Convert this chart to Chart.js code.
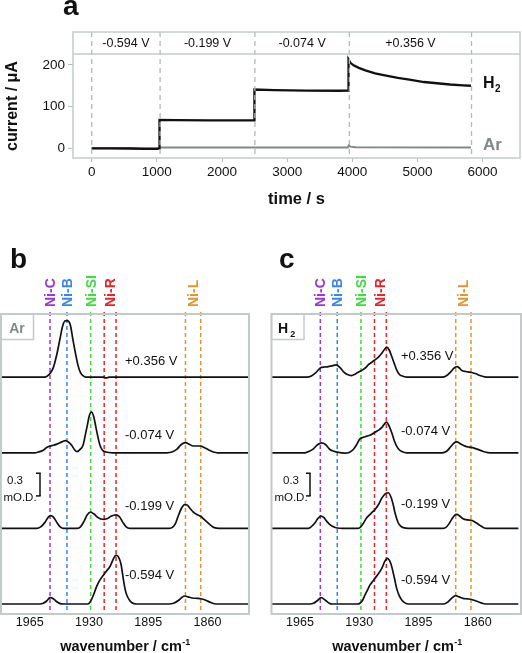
<!DOCTYPE html>
<html><head><meta charset="utf-8">
<script src="https://cdn.jsdelivr.net/npm/chart.js@4.4.1/dist/chart.umd.min.js"></script>
<style>
html,body{margin:0;padding:0;background:#fff;width:522px;height:653px;overflow:hidden}
canvas{position:absolute;left:0;top:0}
</style></head><body>
<canvas id="ca" width="522" height="653"></canvas>
<canvas id="cb" width="522" height="653"></canvas>
<canvas id="cc" width="522" height="653"></canvas>
<script>
// ================= DATA =================
// panel a : chronoamperometry
const timeTicks = [0, 1000, 2000, 3000, 4000, 5000, 6000];
const currentTicks = [0, 100, 200];
const stepTimes = [0, 1050, 2505, 3955, 5830];
const stepLabels = ['-0.594 V', '-0.199 V', '-0.074 V', '+0.356 V'];
const timeH2 = [0,300,600,800,1000,1040,1041,1300,1800,2300,2497,2498,2800,3300,3800,3940,3942,3970,4020,4100,4200,4350,4500,4700,4900,5100,5300,5500,5700,5822];
const currentH2 = [0,0,-0.5,-1.5,-1.5,0,68,67.5,67,67,67,141,139.5,138.5,138,138.5,213,205,199,193,187,180,175,169,164,159,156,153,151,150];
const timeAr = [0,1040,1060,2500,3930,3945,3970,4050,5822];
const currentAr = [0,0,2,2,2,7,4,2.5,2];

// panels b, c : IR difference spectra (mO.D.)
const wnTicks = [1965, 1930, 1895, 1860];
const potentials = ['+0.356 V', '-0.074 V', '-0.199 V', '-0.594 V'];
const traceOffsets = [3, 2, 1, 0];
const niLinePositions = [1953, 1943, 1929, 1921, 1914, 1873, 1864];
const niLabels = ['Ni-C', 'Ni-B', 'Ni-SI', 'Ni-R', 'Ni-L'];
const niLabelPositions = [1953, 1943, 1929, 1917.5, 1868.5];

// b (Ar)
const wnAr356 = [1982,1957,1955,1953,1951,1949,1947,1945.5,1944,1942.5,1941,1939.5,1938,1936.5,1935,1933.5,1932,1921,1920,1918,1836];
const odAr356 = [0,0,0.01,0.05,0.13,0.30,0.52,0.68,0.745,0.745,0.69,0.50,0.32,0.16,0.06,0.02,0,0,-0.01,0,0];
const wnAr074 = [1982,1962,1960,1957,1955,1953,1951,1949,1946,1944,1942,1940.2,1938.5,1937,1935.5,1933.5,1932.3,1931,1929.8,1928.5,1927.2,1926,1925,1923.5,1922,1920,1916,1884,1881,1878,1875.5,1873,1870.5,1868.5,1866,1864,1862,1859,1856.5,1854,1836];
const odAr074 = [0,0,0.01,0.035,0.07,0.09,0.10,0.115,0.145,0.16,0.14,0.10,0.04,0.015,0.04,0.10,0.22,0.36,0.49,0.54,0.48,0.35,0.24,0.10,0.035,0.01,0,0,0.01,0.05,0.11,0.135,0.11,0.09,0.09,0.09,0.07,0.035,0.01,0,0];
const wnAr199 = [1982,1961,1958.5,1956,1954,1952.6,1951,1949,1947,1945,1937,1935,1933,1931,1929,1927,1925,1923,1921,1919,1917,1914,1912,1910,1908,1906,1883,1881,1879,1877.5,1875.5,1873.5,1872,1870.5,1868.5,1866,1864,1862,1860,1858,1856,1853,1836];
const odAr199 = [0,0,0.02,0.08,0.15,0.17,0.15,0.08,0.02,0,0,0.02,0.09,0.18,0.215,0.19,0.15,0.125,0.12,0.13,0.16,0.18,0.155,0.08,0.02,0,0,0.01,0.06,0.15,0.26,0.315,0.31,0.27,0.22,0.18,0.16,0.12,0.08,0.04,0.01,0,0];
const wnAr594 = [1982,1959,1957,1955,1953,1951,1949,1947,1945,1931,1929.5,1927.5,1925.5,1923.5,1921.5,1919.5,1917.5,1915.5,1914,1912.5,1911,1909.7,1908.5,1907.5,1906,1904.8,1902,1883,1880,1877,1875,1873.5,1871.5,1869,1866,1864,1861,1858,1855,1836];
const odAr594 = [0,0,0.01,0.04,0.085,0.07,0.03,0.005,0,0,0.02,0.11,0.23,0.32,0.38,0.44,0.50,0.60,0.648,0.62,0.52,0.33,0.18,0.11,0.05,0.02,0,0,0.01,0.05,0.09,0.106,0.095,0.08,0.075,0.07,0.05,0.02,0,0];

// c (H2)
const wnH2356 = [1982,1961,1958,1956,1954,1952.6,1950.5,1948.3,1946,1943.7,1941.5,1939.4,1937,1934.5,1932.5,1930.6,1928,1926,1924.7,1922.5,1920.7,1918.5,1916.7,1915,1913.8,1912.3,1910.8,1909.3,1907.9,1906.4,1904.9,1902,1881,1878.5,1876,1874,1872.4,1871,1869.5,1867,1865,1863.6,1861,1858.7,1856,1853,1836];
const odH2356 = [0,0,0.02,0.053,0.10,0.128,0.135,0.141,0.15,0.163,0.13,0.075,0.035,0.022,0.04,0.066,0.097,0.13,0.163,0.20,0.23,0.27,0.317,0.37,0.397,0.36,0.273,0.18,0.097,0.04,0.018,0,0,0.02,0.07,0.12,0.141,0.125,0.09,0.075,0.068,0.062,0.045,0.022,0.005,0,0];
const wnH2074 = [1982,1962,1959.5,1957.1,1954.5,1952.2,1950,1947.3,1945,1943.3,1940.5,1938.4,1936,1933.5,1931.5,1929.6,1927.5,1925.6,1923,1920.7,1918.5,1916.5,1914.8,1913.8,1912.3,1910.8,1909.3,1907.9,1906.4,1904.9,1902,1881,1878.4,1876,1874,1872.4,1870,1867.5,1865,1862.6,1860,1856.7,1854,1851,1836];
const odH2074 = [0,0,0.02,0.053,0.11,0.132,0.11,0.044,0.02,0.01,0,-0.005,0.005,0.044,0.11,0.185,0.205,0.22,0.24,0.273,0.30,0.34,0.39,0.406,0.35,0.265,0.16,0.088,0.04,0.018,0,0,0.02,0.08,0.13,0.145,0.115,0.088,0.075,0.066,0.045,0.018,0.003,0,0];
const wnH2199 = [1982,1961,1959.1,1957.5,1956.1,1954.5,1952.6,1951,1949.3,1947.3,1945.3,1943,1940,1931,1929.6,1927.5,1925.6,1923,1920.7,1918.5,1916.7,1914.5,1912.8,1911,1909.8,1908.9,1907,1905.5,1904,1901,1881,1879,1877,1875.4,1873.8,1872.4,1870.5,1868.7,1866,1863.6,1861,1858.7,1856.5,1854.7,1836];
const odH2199 = [0,0,0.01,0.04,0.075,0.13,0.163,0.145,0.097,0.05,0.022,0.005,0,0,0.01,0.07,0.14,0.20,0.25,0.32,0.40,0.46,0.472,0.40,0.30,0.207,0.075,0.03,0.01,0,0,0.01,0.06,0.12,0.17,0.185,0.16,0.128,0.112,0.106,0.075,0.04,0.01,0,0];
const wnH2594 = [1982,1959,1957,1955,1952.5,1950,1948,1946,1931,1929.6,1928,1926.6,1925,1923.7,1922,1920.7,1918.7,1916.7,1915,1913.4,1912,1910.8,1909.3,1907.9,1906.4,1904.9,1903,1901,1880,1877.5,1875,1873,1871,1868.7,1866,1863.6,1861,1858,1855.5,1836];
const odH2594 = [0,0,0.01,0.04,0.084,0.05,0.015,0,0,0.01,0.05,0.12,0.19,0.25,0.30,0.34,0.40,0.47,0.56,0.604,0.57,0.494,0.35,0.207,0.11,0.053,0.015,0,0,0.03,0.085,0.11,0.095,0.075,0.068,0.06,0.04,0.015,0,0];

// ================= STYLE =================
const FONT = '"Liberation Sans", Arial, Helvetica, sans-serif';
const niLineColors = ['#9a36d8', '#3a86e8', '#3bdc3b', '#e8242b', '#e8242b', '#e0962e', '#e0962e'];
const niLabelColors = ['#9a36d8', '#3a86e8', '#3bdc3b', '#e8242b', '#e0962e'];
const BOX_COLOR = '#c3caca';
const AR_COLOR = '#7e8989';
const plainTick = v => String(v);

function txt(ctx, s, x, y, font, color, align, base) {
  ctx.font = font; ctx.fillStyle = color;
  ctx.textAlign = align || 'left'; ctx.textBaseline = base || 'alphabetic';
  ctx.fillText(s, x, y);
}
function seg(ctx, x1, y1, x2, y2) { ctx.beginPath(); ctx.moveTo(x1, y1); ctx.lineTo(x2, y2); ctx.stroke(); }

// ================= PANEL A =================
const HEADER_LEVEL = 226;
const panelAPlugin = {
  id: 'panelA',
  afterDatasetsDraw(chart) {
    const { ctx, chartArea: a, scales: { x, y } } = chart;
    const hy = y.getPixelForValue(HEADER_LEVEL);
    ctx.save();
    ctx.strokeStyle = '#b3b9b9'; ctx.lineWidth = 1.3; ctx.setLineDash([5, 4]);
    stepTimes.forEach(t => { const px = x.getPixelForValue(t); seg(ctx, px, a.top, px, a.bottom); });
    ctx.setLineDash([]);
    ctx.strokeStyle = BOX_COLOR; ctx.lineWidth = 1.5;
    ctx.strokeRect(a.left, a.top, a.width, a.height);
    seg(ctx, a.left, hy, a.right, hy);
    for (let i = 0; i < stepLabels.length; i++) {
      const cx = (x.getPixelForValue(stepTimes[i]) + x.getPixelForValue(stepTimes[i + 1])) / 2;
      txt(ctx, stepLabels[i], cx, (a.top + hy) / 2 + 1, '12.5px ' + FONT, '#111', 'center', 'middle');
    }
    txt(ctx, 'H', 483, 87.5, 'bold 16px ' + FONT, '#111');
    txt(ctx, '2', 495, 92, 'bold 10px ' + FONT, '#111');
    txt(ctx, 'Ar', 483, 149.5, 'bold 17px ' + FONT, AR_COLOR);
    ctx.save(); ctx.translate(13, 106); ctx.rotate(-Math.PI / 2);
    txt(ctx, 'current / μA', 0, 0, 'bold 16px ' + FONT, '#111', 'center', 'middle');
    ctx.restore();
    txt(ctx, 'time / s', 296.5, 204, 'bold 16.5px ' + FONT, '#111', 'center');
    txt(ctx, 'a', 63, 15, 'bold 28px ' + FONT, '#111');
    ctx.restore();
  }
};

new Chart(document.getElementById('ca'), {
  type: 'line',
  data: {
    datasets: [
      { label: 'H2', data: timeH2.map((t, i) => ({ x: t, y: currentH2[i] })), borderColor: '#111', borderWidth: 2.3, pointRadius: 0, order: 0 },
      { label: 'Ar', data: timeAr.map((t, i) => ({ x: t, y: currentAr[i] })), borderColor: AR_COLOR, borderWidth: 2, pointRadius: 0, order: 1 }
    ]
  },
  options: {
    responsive: false, animation: false, events: [],
    layout: { padding: { left: 0, right: 2, top: 32, bottom: 455 } },
    plugins: { legend: { display: false }, tooltip: { enabled: false } },
    scales: {
      x: {
        type: 'linear', min: -287, max: 6574,
        afterFit: s => { s.height = 40; },
        afterBuildTicks: s => { s.ticks = timeTicks.map(v => ({ value: v })); },
        grid: { display: true, drawOnChartArea: false, drawTicks: true, tickLength: 4, color: '#b5bdbd' },
        border: { display: false },
        ticks: { font: { family: FONT, size: 13.5 }, color: '#111', padding: 2, maxRotation: 0, autoSkip: false, callback: plainTick }
      },
      y: {
        type: 'linear', min: -23.3, max: 279,
        afterFit: s => { s.width = 73; },
        afterBuildTicks: s => { s.ticks = currentTicks.map(v => ({ value: v })); },
        grid: { display: true, drawOnChartArea: false, drawTicks: true, tickLength: 5, color: '#b5bdbd' },
        border: { display: false },
        ticks: { font: { family: FONT, size: 13.5 }, color: '#111', padding: 3, callback: plainTick }
      }
    }
  },
  plugins: [panelAPlugin]
});

// ================= PANELS B, C =================
function spectrumPlugin(cfg) {
  return {
    id: 'spec' + cfg.letter,
    beforeDatasetsDraw(chart) {
      const { ctx, chartArea: a, scales: { x } } = chart;
      ctx.save();
      ctx.lineWidth = 1.5; ctx.setLineDash([4, 3]);
      niLinePositions.forEach((w, i) => {
        const px = x.getPixelForValue(w);
        ctx.strokeStyle = niLineColors[i];
        seg(ctx, px, a.top - 2, px, a.bottom - 2);
      });
      ctx.restore();
    },
    afterDraw(chart) {
      const { ctx, chartArea: a, scales: { x, y } } = chart;
      ctx.save();
      ctx.strokeStyle = BOX_COLOR; ctx.lineWidth = 2;
      ctx.strokeRect(a.left, a.top, a.width, a.height);
      // gas label box
      ctx.lineWidth = 1.5;
      ctx.strokeRect(a.left, a.top, 32.5, 25.5);
      if (cfg.gas === 'Ar') {
        txt(ctx, 'Ar', a.left + 16, a.top + 18.5, 'bold 14px ' + FONT, AR_COLOR, 'center');
      } else {
        txt(ctx, 'H', a.left + 6.5, a.top + 18.5, 'bold 14px ' + FONT, '#111');
        txt(ctx, '2', a.left + 18.8, a.top + 23, 'bold 9px ' + FONT, '#111');
      }
      // Ni state labels (rotated)
      niLabels.forEach((s, i) => {
        const px = x.getPixelForValue(niLabelPositions[i]);
        ctx.save(); ctx.translate(px + 5, a.top - 7); ctx.rotate(-Math.PI / 2);
        txt(ctx, s, 0, 0, 'bold 14px ' + FONT, niLabelColors[i], 'left', 'alphabetic');
        ctx.restore();
      });
      // potential labels
      potentials.forEach((s, i) => {
        txt(ctx, s, cfg.potX, cfg.potY[i], '13px ' + FONT, '#111', 'left', 'middle');
      });
      // scale bar 0.3 mO.D.
      const yb = y.getPixelForValue(1.43), yt = y.getPixelForValue(1.73);
      ctx.strokeStyle = '#111'; ctx.lineWidth = 1.5;
      seg(ctx, cfg.barX, yt, cfg.barX, yb);
      seg(ctx, cfg.barX - 4, yt, cfg.barX + 0.7, yt);
      seg(ctx, cfg.barX - 4, yb, cfg.barX + 0.7, yb);
      txt(ctx, '0.3', cfg.barTextX[0], 484, '11.5px ' + FONT, '#111', 'center');
      txt(ctx, 'mO.D.', cfg.barTextX[1], 501, '11.5px ' + FONT, '#111', 'center');
      // x title with superscript
      ctx.font = 'bold 14.5px ' + FONT;
      const w1 = ctx.measureText('wavenumber / cm').width;
      ctx.font = 'bold 9px ' + FONT;
      const w2 = ctx.measureText('-1').width;
      const x0 = cfg.titleX - (w1 + w2) / 2;
      txt(ctx, 'wavenumber / cm', x0, 650.5, 'bold 14.5px ' + FONT, '#111');
      txt(ctx, '-1', x0 + w1 + 0.5, 645, 'bold 9px ' + FONT, '#111');
      // panel letter
      txt(ctx, cfg.letter, cfg.letterPos[0], cfg.letterPos[1], 'bold 28px ' + FONT, '#111');
      ctx.restore();
    }
  };
}

function spectrumChart(id, traces, cfg) {
  return new Chart(document.getElementById(id), {
    type: 'line',
    data: {
      datasets: traces.map((t, i) => ({
        label: potentials[i],
        data: t[0].map((w, j) => ({ x: w, y: t[1][j] + traceOffsets[i] })),
        borderColor: '#111', borderWidth: 1.7, pointRadius: 0,
        cubicInterpolationMode: 'monotone', fill: false
      }))
    },
    options: {
      responsive: false, animation: false, events: [],
      layout: { padding: cfg.padding },
      plugins: { legend: { display: false }, tooltip: { enabled: false } },
      scales: {
        x: {
          type: 'linear', reverse: true, min: cfg.wnMin, max: cfg.wnMax,
          afterFit: s => { s.height = 30; },
          afterBuildTicks: s => { s.ticks = wnTicks.map(v => ({ value: v })); },
          grid: { display: false, drawTicks: false }, border: { display: false },
          ticks: { font: { family: FONT, size: 12.5 }, color: '#111', padding: 1.5, maxRotation: 0, autoSkip: false, callback: plainTick }
        },
        y: { type: 'linear', display: false, min: -0.132, max: 3.836 }
      }
    },
    plugins: [spectrumPlugin(cfg)]
  });
}

spectrumChart('cb', [[wnAr356, odAr356], [wnAr074, odAr074], [wnAr199, odAr199], [wnAr594, odAr594]], {
  letter: 'b', letterPos: [10, 268], gas: 'Ar',
  padding: { left: 1, right: 273, top: 314, bottom: 9 },
  wnMin: 1835.47, wnMax: 1981.95,
  potX: 125, potY: [361.7, 435, 506.7, 575],
  barX: 40, barTextX: [15, 20], titleX: 125
});
spectrumChart('cc', [[wnH2356, odH2356], [wnH2074, odH2074], [wnH2199, odH2199], [wnH2594, odH2594]], {
  letter: 'c', letterPos: [279, 268], gas: 'H2',
  padding: { left: 271.5, right: 1, top: 314, bottom: 9 },
  wnMin: 1834.46, wnMax: 1981.83,
  potX: 401, potY: [356, 431.7, 504, 580],
  barX: 310, barTextX: [291, 291], titleX: 397
});
</script>
</body></html>
